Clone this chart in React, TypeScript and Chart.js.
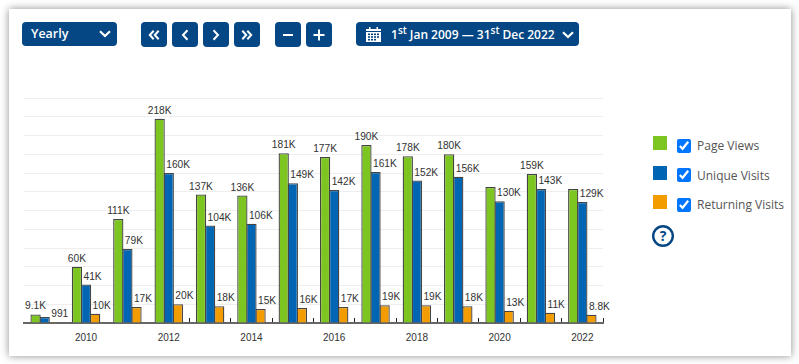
import React, { useEffect, useRef } from "react";
import { Chart, registerables } from "chart.js";

Chart.register(...registerables);

const years = ["2009","2010","2011","2012","2013","2014","2015","2016","2017","2018","2019","2020","2021","2022"];
const pageViews = [9100, 60000, 111000, 218000, 137000, 136000, 181000, 177000, 190000, 178000, 180000, 145000, 159000, 143000];
const uniqueVisits = [6500, 41000, 79000, 160000, 104000, 106000, 149000, 142000, 161000, 152000, 156000, 130000, 143000, 129000];
const returningVisits = [991, 10000, 17000, 20000, 18000, 15000, 16000, 17000, 19000, 19000, 18000, 13000, 11000, 8800];
const seriesNames = ["Page Views", "Unique Visits", "Returning Visits"];
const seriesColors = ["#7dc520", "#0066b3", "#f39c00"];
// dataset index : category indexes whose value label is left out in the picture
const unlabelled: Record<number, number[]> = { 0: [11, 13], 1: [0] };
const NAVY = "#054785";

const formatValue = (v: number) => {
  if (v < 1000) return String(v);
  if (v < 10000) return (v / 1000).toFixed(1) + "K";
  return Math.round(v / 1000) + "K";
};

const whiteBackground = {
  id: "whiteBackground",
  beforeDraw(chart: any) {
    const { ctx, width, height } = chart;
    ctx.save();
    ctx.fillStyle = "#fff";
    ctx.fillRect(0, 0, width, height);
    ctx.restore();
  },
};

const valueLabels = {
  id: "valueLabels",
  afterDatasetsDraw(chart: any) {
    const ctx = chart.ctx;
    ctx.save();
    ctx.font = "10.2px 'Liberation Sans', Arial, sans-serif";
    ctx.fillStyle = "#333";
    ctx.textBaseline = "alphabetic";
    chart.data.datasets.forEach((ds: any, d: number) => {
      chart.getDatasetMeta(d).data.forEach((bar: any, i: number) => {
        if ((unlabelled[d] || []).includes(i)) return;
        const text = formatValue(ds.data[i]);
        if (d === 0) {
          ctx.textAlign = "center";
          ctx.fillText(text, bar.x, bar.y - 5);
        } else {
          ctx.textAlign = "left";
          ctx.fillText(text, bar.x - bar.width / 2 + 2.6, bar.y - 5);
        }
      });
    });
    ctx.restore();
  },
};

const btn: React.CSSProperties = {
  position: "absolute", top: 22, height: 25, width: 26, background: NAVY, borderRadius: 4,
  display: "flex", alignItems: "center", justifyContent: "center",
};

const Icon = ({ d }: { d: string }) => (
  <svg width="16" height="16" viewBox="0 0 16 16" fill="none" stroke="#fff" strokeWidth="2" strokeLinecap="square">
    <path d={d} />
  </svg>
);

const navButtons = [
  { left: 141, d: "M7 4.5 L3.8 8 L7 11.5 M12 4.5 L8.8 8 L12 11.5" },
  { left: 172, d: "M9.8 4 L6 8 L9.8 12" },
  { left: 203, d: "M6.2 4 L10 8 L6.2 12" },
  { left: 234, d: "M4 4.5 L7.2 8 L4 11.5 M9 4.5 L12.2 8 L9 11.5" },
  { left: 275, d: "M4 8 L12 8" },
  { left: 306, d: "M3.5 8 L12.5 8 M8 3.5 L8 12.5" },
];

const legendTops = [136, 166, 195];
const checkTops = [139, 168, 198];
const labelTops = [137, 167, 196];

export default function App() {
  const ref = useRef<HTMLCanvasElement>(null);
  useEffect(() => {
    const context = ref.current!.getContext("2d", { alpha: false })!;
    const chart = new Chart(context, {
      type: "bar",
      data: {
        labels: years,
        datasets: [pageViews, uniqueVisits, returningVisits].map((data, i) => ({
          label: seriesNames[i],
          data,
          backgroundColor: seriesColors[i],
          borderColor: "#444",
          borderWidth: 1.3,
          barPercentage: 1.13,
          categoryPercentage: 0.66,
        })),
      },
      options: {
        animation: false,
        responsive: false,
        layout: { padding: { left: 10, right: 11, top: 8, bottom: 0 } },
        plugins: { legend: { display: false }, tooltip: { enabled: false } },
        scales: {
          x: {
            offset: true,
            afterFit: (s: any) => { s.height = 27; },
            grid: {
              offset: true,
              drawOnChartArea: false,
              drawTicks: true,
              tickLength: -5,
              tickWidth: 1,
              tickColor: (c: any) => (c.index !== undefined && c.index < 4 ? "rgba(0,0,0,0)" : "#222"),
            },
            border: { display: true, color: "#666", width: 2 },
            ticks: {
              autoSkip: false,
              maxRotation: 0,
              padding: 14,
              color: "#333",
              font: { family: "'Liberation Sans', Arial, sans-serif", size: 10 },
              callback: (_: any, i: number) => (i % 2 === 1 ? years[i] : ""),
            },
          },
          y: {
            min: 0,
            max: 240000,
            ticks: { display: false, stepSize: 20000 },
            grid: { color: "#eee", lineWidth: 1, drawTicks: false },
            border: { display: false },
          },
        },
      },
      plugins: [whiteBackground, valueLabels],
    } as any);
    return () => chart.destroy();
  }, []);

  return (
    <div style={{ position: "absolute", left: 0, top: 0, width: 799, height: 364, overflow: "hidden", background: "#fff", fontFamily: "'Open Sans', sans-serif" }}>
      <div style={{ position: "absolute", left: 9, top: 9, width: 782, height: 347, background: "#fff", boxShadow: "0 0 8px rgba(0,0,0,0.45)" }} />
      <div style={{ position: "absolute", left: 22, top: 22, width: 95, height: 24, background: NAVY, borderRadius: 4, color: "#fff", fontWeight: 600, fontSize: 12.5, lineHeight: "23px", paddingLeft: 9, boxSizing: "border-box" }}>
        Yearly
        <svg width="12" height="8" viewBox="0 0 12 8" style={{ position: "absolute", left: 77, top: 8 }} fill="none" stroke="#fff" strokeWidth="2.2"><path d="M1 1.2 L6 6 L11 1.2" /></svg>
      </div>
      {navButtons.map((b) => (
        <div key={b.left} style={{ ...btn, left: b.left }}><Icon d={b.d} /></div>
      ))}
      <div style={{ position: "absolute", left: 356, top: 22, width: 223, height: 24, background: NAVY, borderRadius: 4, color: "#fff", fontWeight: 600, fontSize: 12, lineHeight: "25px", whiteSpace: "nowrap" }}>
        <svg width="15" height="15" viewBox="0 0 15 15" style={{ position: "absolute", left: 10, top: 5 }}>
          <path fill="#fff" d="M0 2 H3 V0 H4.5 V2 H10.5 V0 H12 V2 H15 V15 H0 Z" />
          <g fill={NAVY}>
            <rect x="0" y="4" width="15" height="1" />
            <rect x="2" y="6.5" width="2" height="1.6" /><rect x="5" y="6.5" width="2" height="1.6" /><rect x="8" y="6.5" width="2" height="1.6" /><rect x="11" y="6.5" width="2" height="1.6" />
            <rect x="2" y="9.2" width="2" height="1.6" /><rect x="5" y="9.2" width="2" height="1.6" /><rect x="8" y="9.2" width="2" height="1.6" /><rect x="11" y="9.2" width="2" height="1.6" />
            <rect x="2" y="11.9" width="2" height="1.6" /><rect x="5" y="11.9" width="2" height="1.6" /><rect x="8" y="11.9" width="2" height="1.6" />
          </g>
        </svg>
        <span style={{ position: "absolute", left: 35, top: 0 }}>
          1<sup style={{ fontSize: 10, lineHeight: 0 }}>st</sup> Jan 2009 — 31<sup style={{ fontSize: 10, lineHeight: 0 }}>st</sup> Dec 2022
        </span>
        <svg width="12" height="8" viewBox="0 0 12 8" style={{ position: "absolute", left: 206, top: 9 }} fill="none" stroke="#fff" strokeWidth="2.2"><path d="M1 1.2 L6 6 L11 1.2" /></svg>
      </div>

      <canvas ref={ref} width={600} height={260} style={{ position: "absolute", left: 14, top: 90, width: 600, height: 260 }} />

      {seriesNames.map((name, i) => (
        <React.Fragment key={name}>
          <div style={{ position: "absolute", left: 653, top: legendTops[i], width: 14, height: 14, background: seriesColors[i] }} />
          <input type="checkbox" defaultChecked style={{ position: "absolute", left: 677, top: checkTops[i], width: 14, height: 14, margin: 0 }} />
          <div style={{ position: "absolute", left: 697, top: labelTops[i], fontSize: 12, lineHeight: "18px", color: "#555", whiteSpace: "nowrap" }}>{name}</div>
        </React.Fragment>
      ))}
      <svg width="24" height="24" viewBox="0 0 24 24" style={{ position: "absolute", left: 651, top: 224 }}>
        <circle cx="12" cy="12" r="9.8" fill="none" stroke={NAVY} strokeWidth="2.4" />
        <text x="12" y="17" textAnchor="middle" fontSize="14" fontWeight="700" fontFamily="'Open Sans', sans-serif" fill={NAVY}>?</text>
      </svg>
    </div>
  );
}
